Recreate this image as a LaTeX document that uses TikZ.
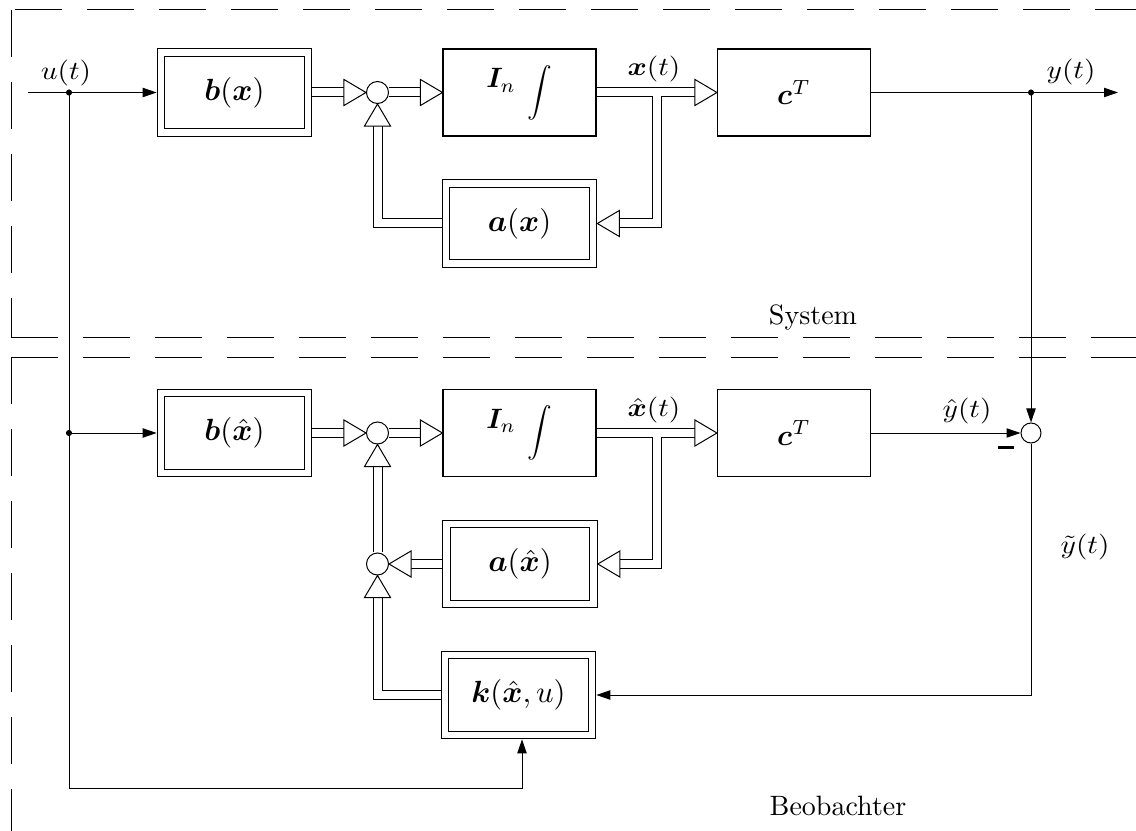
\RequirePackage{fix-cm}
\documentclass[tikz,border=0pt]{standalone}
\usepackage{amsmath}
\usepackage{bm}
\usepackage{graphicx}
\usepackage{fontspec}
\newfontfamily\tenrm{lmroman10-regular.otf}
\usetikzlibrary{arrows.meta,calc}

% enlarged math for block and signal names
\newcommand\blkmath[1]{\scalebox{2.3}{$#1$}}
\newcommand\sgmath[1]{\scalebox{2.2}[1.95]{$#1$}}
\newcommand\intlabel{\raisebox{8pt}{\scalebox{2.1}{$\bm{I}_n$}}\hspace{9pt}\scalebox{1.85}{$\displaystyle\int$}}
\newcommand\tgfont{\tenrm\fontsize{21}{25}\selectfont}

\tikzset{
  hollow/.pic={\draw[line width=0.75pt, fill=white, line join=miter]
      (0,0) -- (-22,-13) -- (-22,13) -- cycle;}
}

\begin{document}
\begin{tikzpicture}[x=0.75pt,y=-0.75pt,
  every node/.style={inner sep=0pt, outer sep=0pt},
  line width=0.75pt,
  blk/.style={draw, line width=0.85pt, minimum width=114.75pt,
      minimum height=65.25pt, outer sep=0.42pt},
  dblk/.style={draw, line width=0.85pt, double=white, double distance=4.8pt,
      minimum width=110.25pt, minimum height=60pt, outer sep=3.25pt},
  sumpt/.style={draw, circle, line width=0.75pt, minimum size=16.5pt, outer sep=0.38pt},
  dbl/.style={draw, line width=0.75pt, double=white, double distance=6pt,
      shorten >=16.5pt},
  sig/.style={draw, line width=0.75pt, -{Triangle[length=10.5pt,width=7pt]}},
  dashbd/.style={line width=0.75pt, dash pattern=on 35.25pt off 18.75pt},
  lab/.style={anchor=base},
  tag/.style={font=\tgfont, anchor=base}
]
\useasboundingbox (0,0) rectangle (1136,831);

% dashed frames of the two subsystems
\draw[dashbd] (15,10) -- (1136,10);
\draw[dashbd] (11,10) -- (11,337);
\draw[dashbd] (11,337) -- (1136,337);
\draw[dashbd] (11,357) -- (1136,357);
\draw[dashbd] (11,357) -- (11,831);

% ---------------- system ----------------
\node[dblk] (bx) at (234.5,92.5) {\blkmath{\bm{b}(\bm{x})}};
\node[blk]  (Ix) at (519.5,92.5) {\intlabel};
\node[blk]  (cx) at (794,92.5) {\scalebox{2.2}{$\bm{c}^T$}};
\node[dblk] (ax) at (519.5,223.5) {\blkmath{\bm{a}(\bm{x})}};
\node[sumpt] (s1) at (377.5,92.5) {};

% ---------------- observer ----------------
\node[dblk] (bh) at (234.5,433) {\blkmath{\bm{b}(\hat{\bm{x}})}};
\node[blk]  (Ih) at (519.5,433) {\intlabel};
\node[blk]  (ch) at (794,433) {\scalebox{2.2}{$\bm{c}^T$}};
\node[dblk] (ah) at (520,564) {\blkmath{\bm{a}(\hat{\bm{x}})}};
\node[dblk] (k)  at (518.5,695) {\blkmath{\bm{k}(\hat{\bm{x}},u)}};
\node[sumpt] (s2) at (377.5,433) {};
\node[sumpt] (s3) at (377.5,564) {};
\node[sumpt, minimum size=15pt] (s4) at (1031,433) {};

% branch points and free ends
\coordinate (uin)  at (28,92.5);
\coordinate (ud)   at (69,92.5);
\coordinate (ld)   at (69,433);
\coordinate (kb)   at (522,788);
\coordinate (yout) at (1118,92.5);
\coordinate (yd)   at (1031,92.5);
\coordinate (xbr)  at (656.5,96.5);
\coordinate (xhbr) at (656.5,437);

% system connectors
\draw[sig] (uin) -- (bx.west);
\draw[dbl] (bx.east) -- (s1.west);  \pic at (s1.west) {hollow};
\draw[dbl] (s1.east) -- (Ix.west);  \pic at (Ix.west) {hollow};
\draw[dbl] (Ix.east) -- (cx.west);  \pic at (cx.west) {hollow};
\draw[dbl] (xbr) |- (ax.east);      \pic[rotate=180] at (ax.east) {hollow};
\draw[dbl] (ax.west) -| (s1.south); \pic[rotate=90] at (s1.south) {hollow};
\draw[sig] (cx.east) -- (yout);
\draw[sig] (yd) -- (s4.north);

% observer connectors
\draw[sig] (ld) -- (bh.west);
\draw[sig] (ud) |- (kb) -- (kb |- k.south);
\draw[dbl] (bh.east) -- (s2.west);  \pic at (s2.west) {hollow};
\draw[dbl] (s2.east) -- (Ih.west);  \pic at (Ih.west) {hollow};
\draw[dbl] (Ih.east) -- (ch.west);  \pic at (ch.west) {hollow};
\draw[dbl] (xhbr) |- (ah.east);     \pic[rotate=180] at (ah.east) {hollow};
\draw[dbl] (ah.west) -- (s3.east);  \pic[rotate=180] at (s3.east) {hollow};
\draw[dbl] (s3.north) -- (s2.south); \pic[rotate=90] at (s2.south) {hollow};
\draw[dbl] (k.west) -| (s3.south);  \pic[rotate=90] at (s3.south) {hollow};
\draw[sig] (ch.east) -- (s4.west);
\draw[sig] (s4.south) |- (k.east);

% junction dots
\fill (ud) circle (2.3pt);
\fill (ld) circle (2.3pt);
\fill (yd) circle (2.3pt);

% signal labels
\node[lab] (lu)  at (66,80)    {\sgmath{u(t)}};
\node[lab] (lx)  at (654,76)   {\sgmath{\bm{x}(t)}};
\node[lab] (lxh) at (654,416.5) {\sgmath{\hat{\bm{x}}(t)}};
\node[lab] (ly)  at (1071,79)  {\sgmath{y(t)}};
\node[lab] (lyh) at (967,417)  {\sgmath{\hat{y}(t)}};
\node[lab] (lyt) at (1085,553) {\sgmath{\tilde{y}(t)}};
\node (minus) at (1006,447.5) {\rule{11.5pt}{2.2pt}};

% subsystem names
\node[tag] (tsys) at (813,325) {System};
\node[tag] (tobs) at (838,815) {Beobachter};
\end{tikzpicture}
\end{document}
